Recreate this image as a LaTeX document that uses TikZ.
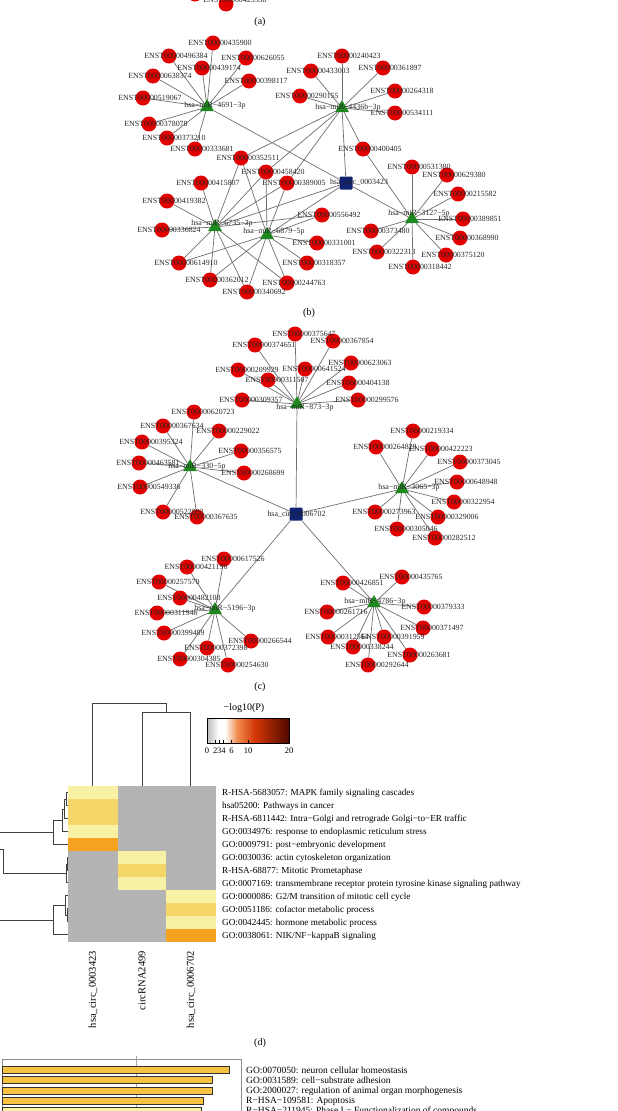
\documentclass[tikz,border=0pt]{standalone}
\usepackage{fontspec}
\setmainfont{Liberation Serif}
\usetikzlibrary{shapes.geometric}
\pgfdeclarelayer{bg}\pgfdeclarelayer{fg}\pgfsetlayers{bg,main,fg}
\definecolor{netred}{RGB}{226,0,0}
\definecolor{netgreen}{RGB}{30,135,30}
\definecolor{netblue}{RGB}{16,34,112}
\definecolor{edgegray}{RGB}{110,110,110}
\definecolor{hgray}{RGB}{180,180,180}
\definecolor{hly}{RGB}{248,241,164}
\definecolor{hy}{RGB}{245,214,105}
\definecolor{ho}{RGB}{245,162,35}
\definecolor{barfill}{RGB}{246,194,68}
\definecolor{barlight}{RGB}{248,241,164}
\tikzset{
 enc/.style={circle,fill=netred,minimum size=15pt,inner sep=0pt},
 mir/.style={regular polygon,regular polygon sides=3,fill=netgreen,minimum size=16pt,inner sep=0pt},
 circsq/.style={rectangle,fill=netblue,minimum size=13pt,inner sep=0pt,rounded corners=1pt},
 nlab/.style={font=\fontsize{7.9}{9}\selectfont,inner sep=0pt,text height=5.3pt,text depth=0pt,text=black!85},
 edge/.style={draw=edgegray,line width=0.7pt},
 panel/.style={font=\fontsize{10}{12}\selectfont,inner sep=0pt},
 rowlab/.style={font=\fontsize{9.2}{11}\selectfont,anchor=west,inner sep=0pt,text height=6pt,text depth=0pt},
 collab/.style={font=\fontsize{10.5}{12}\selectfont,anchor=east,rotate=90,inner sep=0pt},
 barlab/.style={font=\fontsize{9.5}{11}\selectfont,anchor=west,inner sep=0pt,text height=6.2pt,text depth=0pt},
 dendro/.style={draw=black!75,line width=0.8pt},
 bar/.style={draw=black!80,line width=0.6pt},
}
\newcommand\EB[3]{\node[enc] (n#1) at (#2,#3) {};\begin{pgfonlayer}{fg}\node[nlab,xshift=7pt] at (n#1) {ENST00000#1};\end{pgfonlayer}}
\newcommand\EC[3]{\node[enc] (n#1) at (#2,#3) {};\begin{pgfonlayer}{fg}\node[nlab,xshift=9pt] at (n#1) {ENST00000#1};\end{pgfonlayer}}
\newcommand\MIR[5]{\node[mir] (#1) at (#2,#3) {};\begin{pgfonlayer}{fg}\node[nlab] at (#4) {#5};\end{pgfonlayer}}
\begin{document}
\begin{tikzpicture}[x=1pt,y=-1pt]
\useasboundingbox (0,0) rectangle (618,1111);
\clip (0,0) rectangle (618,1111);

% ---------- (a) remnant ----------
\node[enc] (a1) at (195,-6) {};
\node[enc] (a2) at (226,4) {};
\begin{pgfonlayer}{fg}\node[nlab] (a2l) at (235,0) {ENST00000429538};\end{pgfonlayer}
\node[panel] (pa) at (260,22) {(a)};

% ---------- (b) network ----------
\EB{435900}{213}{43}
\EB{496384}{169}{56}
\EB{626055}{246}{58}
\EB{439174}{202}{68}
\EB{638374}{153}{76}
\EB{398117}{249}{81}
\EB{519067}{143}{98}
\EB{378078}{149}{124}
\EB{373210}{167}{138}
\EB{333681}{195}{149}
\EB{352511}{241}{158}
\EB{458420}{266}{172}
\EB{415807}{201}{183}
\EB{389005}{287}{183}
\EB{240423}{342}{56}
\EB{433003}{311}{71}
\EB{361897}{383}{68}
\EB{290155}{300}{96}
\EB{264318}{395}{91}
\EB{534111}{395}{113}
\EB{400405}{363}{149}
\EB{531380}{412}{167}
\EB{629380}{447}{175}
\EB{215582}{458}{194}
\EB{556492}{322}{215}
\EB{389851}{463}{219}
\EB{373480}{371}{231}
\EB{331001}{317}{243}
\EB{368990}{460}{238}
\EB{322313}{377}{252}
\EB{375120}{446}{255}
\EB{318357}{307}{263}
\EB{318442}{413}{267}
\EB{419382}{167}{201}
\EB{336824}{162}{230}
\EB{614910}{179}{263}
\EB{362012}{210}{280}
\EB{340692}{247}{292}
\EB{244763}{287}{283}
\MIR{m4691}{207}{107}{215,105}{hsa−miR−4691−3p}
\MIR{m4436}{342}{108}{348,107}{hsa−miR−4436b−3p}
\MIR{m6735}{215}{227}{222,223}{hsa−miR−6735−3p}
\MIR{m6879}{267}{235}{274,231}{hsa−miR−6879−5p}
\MIR{m3127}{412}{219}{419,213}{hsa−miR−3127−5p}
\node[circsq] (circA) at (346,183) {};
\begin{pgfonlayer}{fg}\node[nlab] at (359,182) {hsa\_circ\_0003423};\end{pgfonlayer}
\node[panel] (pb) at (309,313) {(b)};

% ---------- (c) network ----------
\EC{375647}{295}{334}
\EC{374651}{255}{345}
\EC{367854}{333}{341}
\EC{209929}{238}{370}
\EC{311507}{268}{380}
\EC{641524}{305}{369}
\EC{623063}{351}{363}
\EC{404138}{349}{383}
\EC{309357}{242}{400}
\EC{299576}{358}{400}
\EC{620723}{194}{412}
\EC{367634}{163}{426}
\EC{229022}{219}{431}
\EC{395324}{142}{442}
\EC{356575}{241}{451}
\EC{463581}{139}{463}
\EC{268699}{244}{473}
\EC{549336}{140}{487}
\EC{522893}{163}{512}
\EC{367635}{197}{517}
\EC{219334}{413}{431}
\EC{264828}{376}{447}
\EC{422223}{432}{449}
\EC{373045}{460}{462}
\EC{648948}{457}{482}
\EC{322954}{454}{502}
\EC{273963}{375}{512}
\EC{329006}{438}{517}
\EC{305046}{397}{529}
\EC{282512}{435}{538}
\EC{617526}{224}{559}
\EC{421196}{187}{567}
\EC{257570}{159}{582}
\EC{482108}{180}{598}
\EC{311946}{157}{613}
\EC{399489}{164}{633}
\EC{266544}{251}{641}
\EC{372398}{207}{648}
\EC{304385}{180}{659}
\EC{254630}{228}{665}
\EC{435765}{402}{577}
\EC{426851}{343}{583}
\EC{379333}{424}{607}
\EC{261716}{327}{612}
\EC{371497}{423}{628}
\EC{312564}{328}{637}
\EC{391959}{384}{637}
\EC{338244}{353}{647}
\EC{263681}{410}{655}
\EC{292644}{368}{665}
\MIR{m873}{297}{404}{305,407}{hsa−miR−873−3p}
\MIR{m330}{190}{467}{197,466}{hsa−miR−330−5p}
\MIR{m3065}{402}{489}{409,487}{hsa−miR−3065−3p}
\MIR{m5196}{215}{610}{225,608}{hsa−miR−5196−3p}
\MIR{m4786}{374}{603}{375,601}{hsa−miR−4786−3p}
\node[circsq] (circB) at (296,514) {};
\begin{pgfonlayer}{fg}\node[nlab] at (296.5,514) {hsa\_circ\_0006702};\end{pgfonlayer}
\node[panel] (pc) at (260,687) {(c)};

% ---------- edges ----------
\begin{pgfonlayer}{bg}
\foreach \t in {435900,496384,626055,439174,638374,398117,519067,378078,373210,333681} {\draw[edge] (m4691) -- (n\t);}
\foreach \t in {240423,433003,361897,290155,264318,534111,400405,352511,458420,389005} {\draw[edge] (m4436) -- (n\t);}
\foreach \t in {415807,419382,336824,614910,362012,340692,244763,352511,458420,389005,556492} {\draw[edge] (m6735) -- (n\t);}
\foreach \t in {352511,458420,389005,556492,331001,318357,244763,340692,362012,614910} {\draw[edge] (m6879) -- (n\t);}
\foreach \t in {531380,629380,215582,389851,368990,375120,318442,322313,373480,400405} {\draw[edge] (m3127) -- (n\t);}
\foreach \m in {m4691,m4436,m6735,m6879,m3127} {\draw[edge] (circA) -- (\m);}
\foreach \t in {375647,374651,367854,209929,311507,641524,623063,404138,309357,299576} {\draw[edge] (m873) -- (n\t);}
\foreach \t in {620723,367634,229022,395324,356575,463581,268699,549336,522893,367635} {\draw[edge] (m330) -- (n\t);}
\foreach \t in {219334,264828,422223,373045,648948,322954,273963,329006,305046,282512} {\draw[edge] (m3065) -- (n\t);}
\foreach \t in {617526,421196,257570,482108,311946,399489,266544,372398,304385,254630} {\draw[edge] (m5196) -- (n\t);}
\foreach \t in {435765,426851,379333,261716,371497,312564,391959,338244,263681,292644} {\draw[edge] (m4786) -- (n\t);}
\foreach \m in {m873,m330,m3065,m5196,m4786} {\draw[edge] (circB) -- (\m);}
\end{pgfonlayer}

% ---------- (d) heatmap ----------
% column dendrogram
\draw[dendro] (92,786) |- (166,703) -- (166,712);
\draw[dendro] (142,786) |- (190,712) -- (190,786);
% colour bar
\node[font=\fontsize{10}{12}\selectfont,inner sep=0pt] (cbt) at (244,708) {−log10(P)};
\shade[left color=hgray!90,right color=white] (207,718) rectangle (219,743);
\fill[white] (219,718) rectangle (225,743);
\shade[left color=white,right color={rgb,255:red,240;green,140;blue,80}] (225,718) rectangle (237,743);
\shade[left color={rgb,255:red,240;green,140;blue,80},right color={rgb,255:red,212;green,55;blue,5}] (237,718) rectangle (255,743);
\shade[left color={rgb,255:red,212;green,55;blue,5},right color={rgb,255:red,80;green,8;blue,0}] (255,718) rectangle (289,743);
\draw[black,line width=0.6pt] (207,718) rectangle (289,743);
\foreach \v in {0,2,3,4,6,10,20} {\draw[black,line width=0.5pt] ({207+4.1*\v},743) -- ({207+4.1*\v},740);}
\foreach \v/\l in {0/0,2/2,3/3,4/4,6/6,10/10,20/20} {\node[font=\fontsize{8.5}{10}\selectfont,inner sep=0pt,anchor=north] at ({207+4.1*\v},748) {\l};}
% cells
\fill[hgray] (68,786) rectangle (216,942);
\foreach \r/\c in {1/hly,2/hy,3/hy,4/hly,5/ho} {\fill[\c] (68,{786+13*(\r-1)}) rectangle (118,{786+13*\r});}
\foreach \r/\c in {6/hly,7/hy,8/hly} {\fill[\c] (118,{786+13*(\r-1)}) rectangle (166,{786+13*\r});}
\foreach \r/\c in {9/hly,10/hy,11/hly,12/ho} {\fill[\c] (166,{786+13*(\r-1)}) rectangle (216,{786+13*\r});}
% row labels
\foreach \r/\l in {1/{R-HSA-5683057: MAPK family signaling cascades},
 2/{hsa05200: Pathways in cancer},
 3/{R-HSA-6811442: Intra−Golgi and retrograde Golgi−to−ER traffic},
 4/{GO:0034976: response to endoplasmic reticulum stress},
 5/{GO:0009791: post−embryonic development},
 6/{GO:0030036: actin cytoskeleton organization},
 7/{R-HSA-68877: Mitotic Prometaphase},
 8/{GO:0007169: transmembrane receptor protein tyrosine kinase signaling pathway},
 9/{GO:0000086: G2/M transition of mitotic cell cycle},
 10/{GO:0051186: cofactor metabolic process},
 11/{GO:0042445: hormone metabolic process},
 12/{GO:0038061: NIK/NF−kappaB signaling}}
 {\node[rowlab] at (222,{786+13*\r-6.5}) {\l};}
% row dendrogram
\draw[dendro] (68,792.5) -| (66,805.5) -- (68,805.5);
\draw[dendro] (66,799) -| (64,818.5) -- (68,818.5);
\draw[dendro] (64,809) -| (62,831.5) -- (68,831.5);
\draw[dendro] (62,820) -| (53,844.5) -- (68,844.5);
\draw[dendro] (53,832) -- (0,832);
\draw[dendro] (68,857.5) -| (67,870.5) -- (68,870.5);
\draw[dendro] (67,864) -| (66,882.5) -- (68,882.5);
\draw[dendro] (66,873) -- (3,873);
\draw[dendro] (3,873) -- (3,849) -- (0,849);
\draw[dendro] (68,908.5) -| (67,921.5) -- (68,921.5);
\draw[dendro] (67,915) -| (65,895.5) -- (68,895.5);
\draw[dendro] (65,905) -| (53,934.5) -- (68,934.5);
\draw[dendro] (53,920) -- (0,920);
% column labels
\node[collab] at (93,951) {hsa\_circ\_0003423};
\node[collab] at (142,951) {circRNA2499};
\node[collab] at (191,951) {hsa\_circ\_0006702};
\node[panel] (pd) at (260,1043) {(d)};

% ---------- (e) bars ----------
\draw[black!45,line width=0.6pt] (2,1120) |- (241,1059) -- (241,1120);
\draw[black!35,line width=0.5pt] (136,1056) -- (136,1120);
\draw[bar,fill=barfill] (2,1066) rectangle (229,1073);
\draw[bar,fill=barfill] (2,1076.5) rectangle (212,1083.5);
\draw[bar,fill=barfill] (2,1087) rectangle (212,1094);
\draw[bar,fill=barfill] (2,1097) rectangle (203,1104);
\draw[bar,fill=barlight] (2,1107.5) rectangle (201,1114.5);
\node[barlab] at (246,1070) {GO:0070050: neuron cellular homeostasis};
\node[barlab] at (246,1080) {GO:0031589: cell−substrate adhesion};
\node[barlab] at (246,1090) {GO:2000027: regulation of animal organ morphogenesis};
\node[barlab] at (246,1100) {R−HSA−109581: Apoptosis};
\node[barlab] at (246,1110) {R−HSA−211945: Phase I − Functionalization of compounds};
\end{tikzpicture}
\end{document}
